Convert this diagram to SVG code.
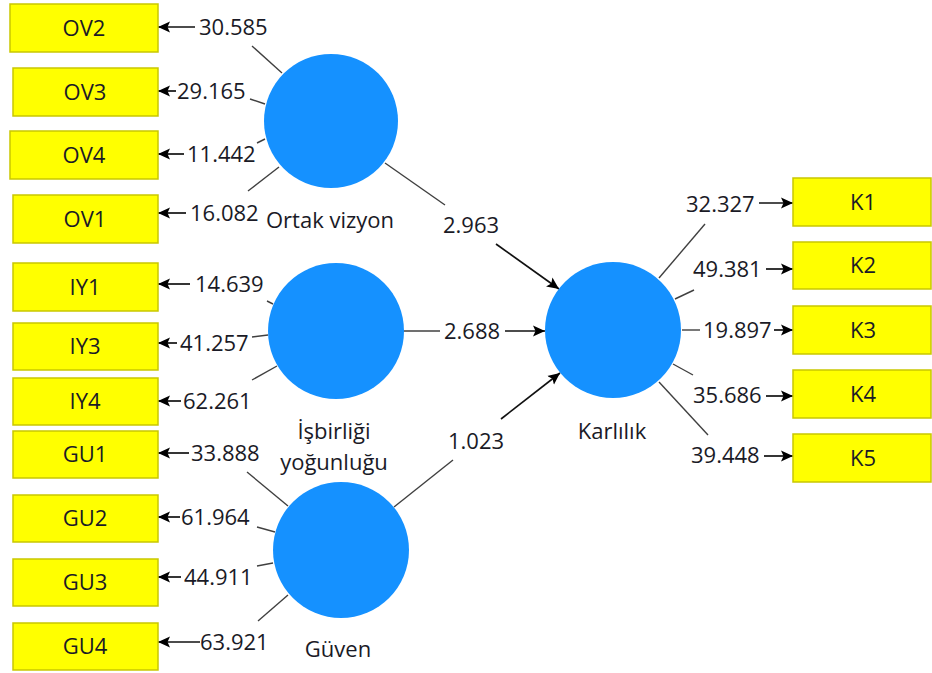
<svg xmlns="http://www.w3.org/2000/svg" width="932" height="673" viewBox="0 0 932 673">
  <style>
    .ind rect { fill: #ffff00; stroke: #c9c700; stroke-width: 1.5; }
    .ind text, .lv text { font-family: "Open Sans", "Noto Sans", "DejaVu Sans", sans-serif; font-size: 22px; fill: #1a1a26; text-anchor: middle; }
    .lv circle { fill: #1591ff; }
    .val { font-family: "Open Sans", "Noto Sans", "DejaVu Sans", sans-serif; font-size: 22px; fill: #1a1a26; }
    .seg { stroke: #404040; stroke-width: 1.4; fill: none; }
    .arr { stroke: #111; stroke-width: 1.7; fill: none; marker-end: url(#head); }
  </style>
  <defs>
    <marker id="head" markerUnits="userSpaceOnUse" markerWidth="12" markerHeight="12" refX="12" refY="6" orient="auto">
      <path d="M0,0.5 L12,6 L0,11.5 L2.5,6 z" fill="#000"/>
    </marker>
  </defs>
  <rect width="932" height="673" fill="#ffffff"/>

  <!-- Connectors: loadings, weights and path coefficients -->
  <g id="connectors">
    <!-- Ortak vizyon indicators -->
    <line class="seg" x1="282" y1="73" x2="252" y2="46"/>
    <line class="arr" x1="195" y1="27" x2="158" y2="27"/>
    <text class="val" x="199" y="35">30.585</text>
    <line class="seg" x1="265" y1="104" x2="250" y2="99"/>
    <line class="arr" x1="176" y1="91" x2="158" y2="91"/>
    <text class="val" x="177" y="99">29.165</text>
    <line class="seg" x1="265" y1="139" x2="257" y2="143"/>
    <line class="arr" x1="184" y1="154" x2="158" y2="154"/>
    <text class="val" x="187" y="162">11.442</text>
    <line class="seg" x1="279" y1="167" x2="248" y2="191"/>
    <line class="arr" x1="186" y1="213" x2="158" y2="213"/>
    <text class="val" x="190" y="221">16.082</text>

    <!-- İşbirliği yoğunluğu indicators -->
    <line class="seg" x1="273" y1="304" x2="267" y2="301"/>
    <line class="arr" x1="190" y1="284" x2="158" y2="284"/>
    <text class="val" x="195" y="292">14.639</text>
    <line class="seg" x1="268" y1="335" x2="252" y2="337"/>
    <line class="arr" x1="177" y1="343" x2="158" y2="343"/>
    <text class="val" x="180" y="351">41.257</text>
    <line class="seg" x1="277" y1="366" x2="252" y2="380"/>
    <line class="arr" x1="181" y1="401" x2="158" y2="401"/>
    <text class="val" x="183" y="409">62.261</text>

    <!-- Güven indicators -->
    <line class="seg" x1="288" y1="506" x2="247" y2="472"/>
    <line class="arr" x1="189" y1="453" x2="158" y2="453"/>
    <text class="val" x="191" y="461">33.888</text>
    <line class="seg" x1="275" y1="532" x2="257" y2="527"/>
    <line class="arr" x1="180" y1="517" x2="158" y2="517"/>
    <text class="val" x="181" y="525">61.964</text>
    <line class="seg" x1="273" y1="563" x2="257" y2="566"/>
    <line class="arr" x1="181" y1="577" x2="158" y2="577"/>
    <text class="val" x="184" y="585">44.911</text>
    <line class="seg" x1="288" y1="595" x2="258" y2="621"/>
    <line class="arr" x1="200" y1="642" x2="158" y2="642"/>
    <text class="val" x="200" y="650">63.921</text>

    <!-- Karlılık indicators -->
    <line class="seg" x1="659" y1="278" x2="705" y2="224"/>
    <text class="val" x="686" y="212">32.327</text>
    <line class="arr" x1="759" y1="203" x2="793" y2="203"/>
    <line class="seg" x1="675" y1="299" x2="694" y2="290"/>
    <text class="val" x="693" y="277">49.381</text>
    <line class="arr" x1="766" y1="269" x2="793" y2="269"/>
    <line class="seg" x1="682" y1="330" x2="700" y2="330"/>
    <text class="val" x="703" y="338">19.897</text>
    <line class="arr" x1="774" y1="330" x2="793" y2="330"/>
    <line class="seg" x1="673" y1="364" x2="693" y2="375"/>
    <text class="val" x="693" y="403">35.686</text>
    <line class="arr" x1="766" y1="396" x2="793" y2="396"/>
    <line class="seg" x1="659" y1="382" x2="708" y2="435"/>
    <text class="val" x="691" y="463">39.448</text>
    <line class="arr" x1="764" y1="456" x2="793" y2="456"/>

    <!-- Structural paths into Karlılık -->
    <line class="seg" x1="385" y1="163" x2="445" y2="205"/>
    <text class="val" x="443" y="233">2.963</text>
    <line class="arr" x1="496" y1="244" x2="559" y2="289"/>
    <line class="seg" x1="399" y1="331" x2="440" y2="331"/>
    <text class="val" x="444" y="339">2.688</text>
    <line class="arr" x1="505" y1="331" x2="545" y2="331"/>
    <line class="seg" x1="394" y1="507" x2="453" y2="460"/>
    <text class="val" x="448" y="449">1.023</text>
    <line class="arr" x1="501" y1="419" x2="560" y2="373"/>
  </g>

  <!-- Latent variables -->
  <g id="ortak-vizyon" class="lv">
    <circle cx="331" cy="121" r="67"/>
    <text x="330" y="228">Ortak vizyon</text>
  </g>
  <g id="isbirligi-yogunlugu" class="lv">
    <circle cx="336" cy="331" r="68"/>
    <text x="334" y="439">İşbirliği</text>
    <text x="334" y="470">yoğunluğu</text>
  </g>
  <g id="guven" class="lv">
    <circle cx="341" cy="550" r="68"/>
    <text x="338" y="657">Güven</text>
  </g>
  <g id="karlilik" class="lv">
    <circle cx="613" cy="330" r="68"/>
    <text x="612" y="439">Karlılık</text>
  </g>

  <!-- Indicators -->
  <g id="OV2" class="ind"><rect x="10" y="4" width="148" height="48"/><text x="84" y="36">OV2</text></g>
  <g id="OV3" class="ind"><rect x="13" y="68" width="145" height="48"/><text x="85" y="100">OV3</text></g>
  <g id="OV4" class="ind"><rect x="10" y="131" width="148" height="48"/><text x="84" y="163">OV4</text></g>
  <g id="OV1" class="ind"><rect x="13" y="195" width="145" height="48"/><text x="85" y="227">OV1</text></g>
  <g id="IY1" class="ind"><rect x="13" y="263" width="145" height="48"/><text x="85" y="295">IY1</text></g>
  <g id="IY3" class="ind"><rect x="13" y="323" width="145" height="47"/><text x="85" y="354">IY3</text></g>
  <g id="IY4" class="ind"><rect x="13" y="378" width="145" height="47"/><text x="85" y="409">IY4</text></g>
  <g id="GU1" class="ind"><rect x="13" y="431" width="145" height="47"/><text x="85" y="462">GU1</text></g>
  <g id="GU2" class="ind"><rect x="13" y="495" width="145" height="47"/><text x="85" y="526">GU2</text></g>
  <g id="GU3" class="ind"><rect x="13" y="559" width="145" height="47"/><text x="85" y="590">GU3</text></g>
  <g id="GU4" class="ind"><rect x="13" y="623" width="145" height="47"/><text x="85" y="654">GU4</text></g>
  <g id="K1" class="ind"><rect x="793" y="178" width="138" height="48"/><text x="863" y="210">K1</text></g>
  <g id="K2" class="ind"><rect x="793" y="242" width="138" height="47"/><text x="863" y="273">K2</text></g>
  <g id="K3" class="ind"><rect x="793" y="306" width="138" height="48"/><text x="863" y="338">K3</text></g>
  <g id="K4" class="ind"><rect x="793" y="370" width="138" height="48"/><text x="863" y="402">K4</text></g>
  <g id="K5" class="ind"><rect x="793" y="434" width="138" height="48"/><text x="863" y="466">K5</text></g>
</svg>
